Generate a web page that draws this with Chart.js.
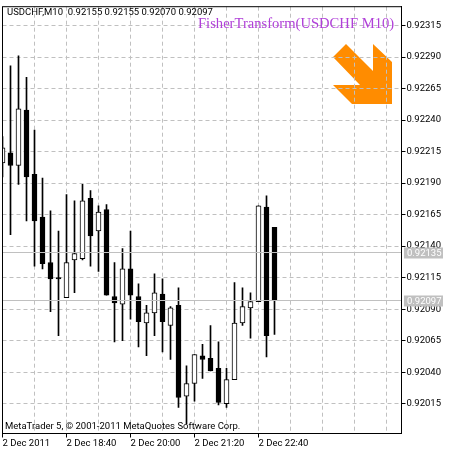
<!DOCTYPE html>
<html>
<head>
<meta charset="utf-8">
<title>USDCHF M10</title>
<script src="https://cdn.jsdelivr.net/npm/chart.js@4/dist/chart.umd.min.js"></script>
<style>
    html, body { margin: 0; padding: 0; background: #fff; }
    canvas { display: block; }
</style>
</head>
<body>
<canvas id="chart" width="454" height="454"></canvas>
<script>
// candles, prices
const opens  = [0.92206,0.92214,0.92204,0.92248,0.92197,0.92163,0.92127,0.92115,0.92099,0.92129,0.92130,0.92178,0.92152,0.92169,0.92100,0.92094,0.92122,0.92100,0.92079,0.92087,0.92102,0.92077,0.92093,0.92021,0.92031,0.92053,0.92051,0.92043,0.92015,0.92034,0.92079,0.92091,0.92096,0.92171,0.92155];
const highs  = [0.92227,0.92283,0.92291,0.92274,0.92232,0.92194,0.92168,0.92152,0.92181,0.92176,0.92189,0.92184,0.92172,0.92173,0.92127,0.92138,0.92152,0.92110,0.92093,0.92118,0.92114,0.92092,0.92107,0.92045,0.92054,0.92062,0.92077,0.92064,0.92043,0.92111,0.92107,0.92103,0.92172,0.92180,0.92155];
const lows   = [0.92195,0.92149,0.92189,0.92160,0.92124,0.92122,0.92088,0.92069,0.92099,0.92103,0.92129,0.92124,0.92120,0.92101,0.92064,0.92065,0.92082,0.92060,0.92053,0.92069,0.92056,0.92050,0.92012,0.91999,0.92017,0.92035,0.92041,0.92014,0.92012,0.92034,0.92077,0.92067,0.92096,0.92052,0.92070];
const closes = [0.92218,0.92204,0.92249,0.92195,0.92160,0.92126,0.92114,0.92114,0.92127,0.92134,0.92176,0.92148,0.92167,0.92101,0.92095,0.92122,0.92101,0.92080,0.92087,0.92103,0.92080,0.92091,0.92020,0.92031,0.92054,0.92050,0.92041,0.92016,0.92034,0.92079,0.92092,0.92096,0.92172,0.92069,0.92097];

const priceTicks = [0.92315,0.92290,0.92265,0.92240,0.92215,0.92190,0.92165,0.92140,0.92115,0.92090,0.92065,0.92040,0.92015];
const timeLabels = ['2 Dec 2011','2 Dec 18:40','2 Dec 20:00','2 Dec 21:20','2 Dec 22:40'];
const askPrice = 0.92135;
const bidPrice = 0.92097;

const headerText = 'USDCHF,M10  0.92155 0.92155 0.92070 0.92097';
const indicatorText = 'FisherTransform(USDCHF M10)';
const copyrightText = 'MetaTrader 5, © 2001-2011 MetaQuotes Software Corp.';

const GRID = '#c0c0c0';
const UI_FONT = 'Roboto, "Liberation Sans", sans-serif';

const bodies = opens.map((o, i) => ({ x: i, y: [Math.min(o, closes[i]), Math.max(o, closes[i])] }));
const wicks = highs.map((h, i) => ({ x: i, y: [lows[i], h] }));

// everything that is not a candle: arrow logo, price lines, captions
const decorations = {
    id: 'decorations',
    beforeDraw(chart) {
        const ctx = chart.ctx;
        const arrow = [[333,57],[346,44],[373,71],[373,44],[392,62],[392,104],[352,104],[333,85],[360,85]];
        ctx.save();
        ctx.fillStyle = '#ff8c00';
        ctx.beginPath();
        arrow.forEach((p, i) => i ? ctx.lineTo(p[0], p[1]) : ctx.moveTo(p[0], p[1]));
        ctx.closePath();
        ctx.fill();
        ctx.restore();
    },
    afterDraw(chart) {
        const ctx = chart.ctx;
        const area = chart.chartArea;
        const y = chart.scales.y;
        ctx.save();

        [askPrice, bidPrice].forEach(price => {
            const py = Math.floor(y.getPixelForValue(price)) + 0.5;
            ctx.strokeStyle = GRID;
            ctx.lineWidth = 1;
            ctx.beginPath();
            ctx.moveTo(area.left, py);
            ctx.lineTo(area.right, py);
            ctx.stroke();
            ctx.fillStyle = GRID;
            ctx.fillRect(404, py - 5, 39, 11);
            ctx.fillStyle = '#fff';
            ctx.font = '9.5px ' + UI_FONT;
            ctx.textBaseline = 'middle';
            ctx.textAlign = 'left';
            ctx.fillText(price.toFixed(5), 407, py + 1);
        });

        ctx.strokeStyle = '#000';
        ctx.lineWidth = 1;
        ctx.strokeRect(area.left, area.top, area.right - area.left, area.bottom - area.top);

        ctx.fillStyle = '#000';
        ctx.font = '9.5px ' + UI_FONT;
        ctx.textBaseline = 'alphabetic';
        ctx.textAlign = 'left';
        ctx.fillText(headerText, 7, 15);
        ctx.fillText(copyrightText, 5, 429);

        ctx.fillStyle = '#b040d8';
        ctx.font = '14.6px "Liberation Serif", serif';
        ctx.fillText(indicatorText, 198, 28);
        ctx.restore();
    }
};

new Chart(document.getElementById('chart').getContext('2d'), {
    type: 'bar',
    data: {
        datasets: [
            {
                data: bodies,
                grouped: false,
                barThickness: 5,
                borderWidth: 1,
                borderSkipped: false,
                borderColor: '#000',
                backgroundColor: ctx => closes[ctx.dataIndex] >= opens[ctx.dataIndex] ? '#fff' : '#000'
            },
            {
                data: wicks,
                grouped: false,
                barThickness: 1,
                borderWidth: 0,
                backgroundColor: '#000'
            }
        ]
    },
    options: {
        responsive: false,
        animation: false,
        events: [],
        layout: { padding: { left: 2.5, top: 4.5, right: 0, bottom: 0 } },
        plugins: { legend: { display: false }, tooltip: { enabled: false } },
        scales: {
            x: {
                type: 'linear',
                offset: false,
                min: 0,
                max: 49.875,
                afterFit(scale) { scale.height = 20.5; },
                afterBuildTicks(scale) {
                    const ticks = [];
                    for (let v = 0; v < 49.875; v += 4) ticks.push({ value: v });
                    scale.ticks = ticks;
                },
                border: { color: '#000', dash: [4, 3] },
                grid: {
                    offset: false,
                    color: GRID,
                    tickLength: 4,
                    tickColor: ctx => (ctx.index % 2 === 0 && timeLabels[ctx.index / 2]) ? '#000' : 'rgba(0,0,0,0)',
                    tickBorderDash: []
                },
                ticks: {
                    autoSkip: false,
                    maxRotation: 0,
                    align: 'start',
                    padding: 0,
                    color: '#000',
                    font: { family: UI_FONT, size: 9.5 },
                    callback: (v, i) => i % 2 === 0 ? (timeLabels[i / 2] || '') : ''
                }
            },
            y: {
                position: 'right',
                min: 0.919913,
                max: 0.92330,
                afterFit(scale) { scale.width = 52.5; },
                afterBuildTicks(scale) { scale.ticks = priceTicks.map(v => ({ value: v })); },
                border: { color: '#000', dash: [4, 3] },
                grid: { color: GRID, tickLength: 4, tickColor: '#000', tickBorderDash: [] },
                ticks: {
                    autoSkip: false,
                    padding: 1,
                    color: '#000',
                    font: { family: UI_FONT, size: 9.5 },
                    callback: v => v.toFixed(5)
                }
            }
        }
    },
    plugins: [decorations]
});
</script>
</body>
</html>
